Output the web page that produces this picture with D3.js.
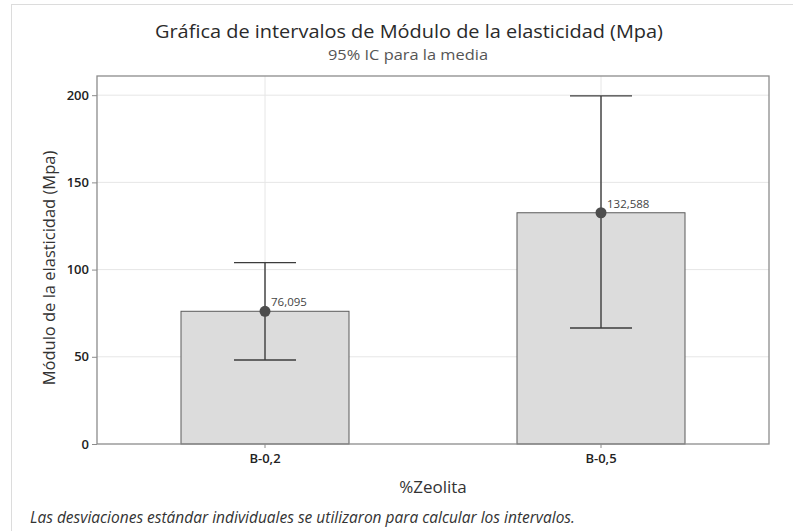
<!DOCTYPE html>
<html><head><meta charset="utf-8">
<script src="https://cdn.jsdelivr.net/npm/d3@7"></script>
<style>body{margin:0;background:#fff}svg{display:block}</style>
</head><body>
<svg id="c" width="793" height="531"></svg>
<script>
const categories = ["B-0,2", "B-0,5"];
const means = [76.095, 132.588];
const ciLower = [48.2, 66.5];
const ciUpper = [104.0, 199.6];
const meanLabels = ["76,095", "132,588"];
const yTicks = [0, 50, 100, 150, 200];

const FONT = "'Open Sans', 'Noto Sans', sans-serif";
const svg = d3.select("#c");
const L = 97, R = 769, T = 76, B = 444;

// page frame
svg.append("line").attr("x1", 12).attr("x2", 793).attr("y1", 4.5).attr("y2", 4.5).attr("stroke", "#dcdcdc");
svg.append("line").attr("x1", 11.5).attr("x2", 11.5).attr("y1", 4).attr("y2", 531).attr("stroke", "#dcdcdc");

const x = d3.scaleBand().domain(categories).range([L, R]).padding(0);
const y = d3.scaleLinear().domain([0, 211]).range([B, T]);
const cx = c => x(c) + x.bandwidth() / 2;

// grid
svg.append("g").selectAll("line.h").data(yTicks.filter(d => d > 0)).join("line")
  .attr("x1", L).attr("x2", R).attr("y1", d => y(d)).attr("y2", d => y(d))
  .attr("stroke", "#e6e6e6").attr("stroke-width", 1);
svg.append("g").selectAll("line.v").data(categories).join("line")
  .attr("x1", d => cx(d)).attr("x2", d => cx(d)).attr("y1", T).attr("y2", B)
  .attr("stroke", "#e6e6e6").attr("stroke-width", 1);

// bars
svg.append("g").selectAll("rect").data(categories).join("rect")
  .attr("x", d => cx(d) - x.bandwidth() / 4)
  .attr("width", x.bandwidth() / 2)
  .attr("y", (d, i) => y(means[i]))
  .attr("height", (d, i) => y(0) - y(means[i]))
  .attr("fill", "#dcdcdc").attr("stroke", "#5a5a5a").attr("stroke-width", 1);

// plot frame
svg.append("rect").attr("x", L).attr("y", T).attr("width", R - L).attr("height", B - T)
  .attr("fill", "none").attr("stroke", "#8c8c8c").attr("stroke-width", 1.3);

// axes
const yAxis = d3.axisLeft(y).tickValues(yTicks).tickSize(5).tickPadding(3);
const gy = svg.append("g").attr("transform", `translate(${L},0)`).call(yAxis);
gy.select(".domain").remove();
gy.selectAll(".tick line").attr("stroke", "#8c8c8c");
gy.selectAll(".tick text").attr("font-family", FONT).attr("font-size", 13).attr("font-weight", 600).attr("fill", "#222");

const xAxis = d3.axisBottom(x).tickSize(4).tickPadding(6);
const gx = svg.append("g").attr("transform", `translate(0,${B})`).call(xAxis);
gx.select(".domain").remove();
gx.selectAll(".tick line").attr("stroke", "#8c8c8c");
gx.selectAll(".tick text").attr("font-family", FONT).attr("font-size", 13).attr("font-weight", 600).attr("fill", "#222");

// error bars
const eb = svg.append("g").attr("stroke", "#3c3c3c").attr("stroke-width", 1.4);
categories.forEach((c, i) => {
  const xc = cx(c);
  eb.append("line").attr("x1", xc).attr("x2", xc).attr("y1", y(ciLower[i])).attr("y2", y(ciUpper[i]));
  eb.append("line").attr("x1", xc - 31).attr("x2", xc + 31).attr("y1", y(ciLower[i])).attr("y2", y(ciLower[i]));
  eb.append("line").attr("x1", xc - 31).attr("x2", xc + 31).attr("y1", y(ciUpper[i])).attr("y2", y(ciUpper[i]));
});

// mean points
svg.append("g").selectAll("circle").data(categories).join("circle")
  .attr("cx", d => cx(d)).attr("cy", (d, i) => y(means[i])).attr("r", 5.5)
  .attr("fill", "#4d4d4d");

svg.append("g").selectAll("text").data(categories).join("text")
  .attr("x", d => cx(d) + 6).attr("y", (d, i) => y(means[i]) - 5)
  .attr("font-family", FONT).attr("font-size", 11.5).attr("fill", "#444")
  .text((d, i) => meanLabels[i]);

// titles
svg.append("text").attr("x", 409).attr("y", 38).attr("text-anchor", "middle")
  .attr("font-family", FONT).attr("font-size", 19).attr("fill", "#2a2a2a")
  .attr("textLength", 508).attr("lengthAdjust", "spacingAndGlyphs")
  .text("Gráfica de intervalos de Módulo de la elasticidad (Mpa)");
svg.append("text").attr("x", 408).attr("y", 59.5).attr("text-anchor", "middle")
  .attr("font-family", FONT).attr("font-size", 15).attr("fill", "#555")
  .attr("textLength", 160).attr("lengthAdjust", "spacingAndGlyphs")
  .text("95% IC para la media");

svg.append("text").attr("x", (L + R) / 2).attr("y", 493).attr("text-anchor", "middle")
  .attr("font-family", FONT).attr("font-size", 17).attr("fill", "#333")
  .text("%Zeolita");

svg.append("text").attr("transform", `translate(55,268) rotate(-90)`).attr("text-anchor", "middle")
  .attr("font-family", FONT).attr("font-size", 16.5).attr("fill", "#333")
  .text("Módulo de la elasticidad (Mpa)");

svg.append("text").attr("x", 30).attr("y", 523)
  .attr("font-family", FONT).attr("font-size", 15.5).attr("font-style", "italic").attr("fill", "#333")
  .text("Las desviaciones estándar individuales se utilizaron para calcular los intervalos.");
</script>
</body></html>
